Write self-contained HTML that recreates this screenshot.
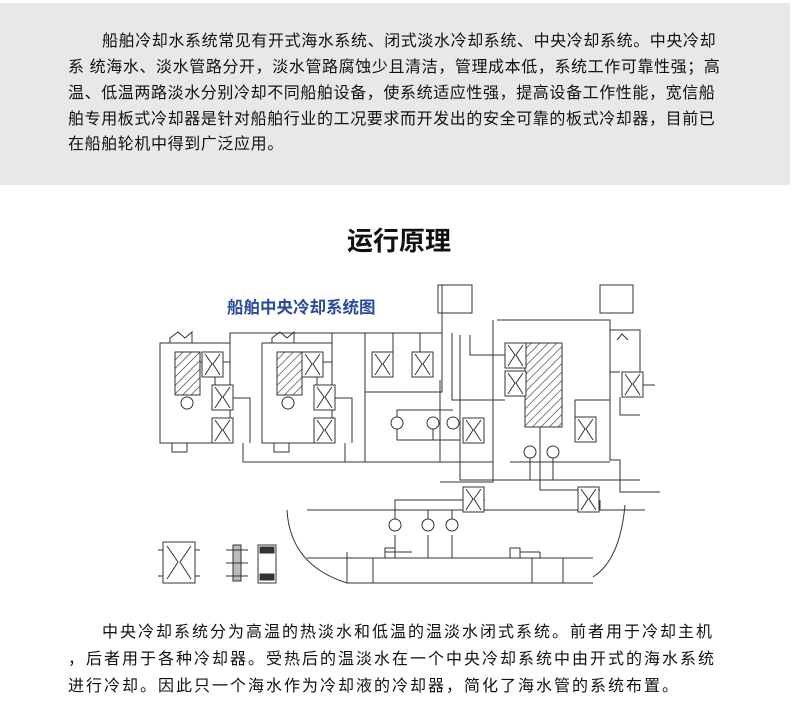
<!DOCTYPE html>
<html><head><meta charset="utf-8"><style>
body{margin:0;width:798px;height:726px;background:#fff;position:relative;overflow:hidden;font-family:"Liberation Sans","Noto Sans CJK SC",sans-serif;color:#111}
.g{position:absolute;left:0;top:3px;width:790px;height:182px;background:#e8e8e8}
.l{position:absolute;font-size:16px;line-height:22px;white-space:nowrap;letter-spacing:0.6px}
.b{letter-spacing:2px;font-size:16px}
.t{position:absolute;left:0;width:798px;text-align:center;top:224px;font-size:26px;font-weight:bold;line-height:34px}
svg{position:absolute;left:0;top:0}
</style></head><body>
<div class="g"></div>
<div class="l" style="left:102px;top:31px">船舶冷却水系统常见有开式海水系统、闭式淡水冷却系统、中央冷却系统。中央冷却</div>
<div class="l" style="left:68px;top:57px">系 统海水、淡水管路分开，淡水管路腐蚀少且清洁，管理成本低，系统工作可靠性强；高</div>
<div class="l" style="left:68px;top:83px">温、低温两路淡水分别冷却不同船舶设备，使系统适应性强，提高设备工作性能，宽信船</div>
<div class="l" style="left:68px;top:109px">舶专用板式冷却器是针对船舶行业的工况要求而开发出的安全可靠的板式冷却器，目前已</div>
<div class="l" style="left:68px;top:134px">在船舶轮机中得到广泛应用。</div>
<div class="t">运行原理</div>
<svg width="798" height="726" viewBox="0 0 798 726">
<defs><pattern id="h" width="6" height="6" patternUnits="userSpaceOnUse" patternTransform="rotate(45)"><line x1="0" y1="0" x2="0" y2="6" stroke="#333" stroke-width="1.3"/></pattern>
<g id="x"><rect x="0" y="0" width="21" height="25" fill="#fff" stroke="#333"/><path d="M3 2 L10 12 L3 23 M18 2 L11 12 L18 23" fill="none" stroke="#333"/></g></defs>
<text x="227" y="313" fill="#2a4a9a" font-size="16.5" font-weight="bold" font-family="Liberation Sans,Noto Sans CJK SC,sans-serif">船舶中央冷却系统图</text>
<g fill="none" stroke="#333" stroke-width="1">
<rect x="438" y="285" width="34" height="28"/><rect x="600" y="285" width="33" height="28"/>
<rect x="160" y="343" width="70" height="100"/><rect x="262" y="343" width="70" height="100"/>
<path d="M230 343 V333 H442 V285 M332 343 V333 M365 333 V462 M393 333 V352 M420 333 V352 M365 392 H442 V333"/>
<path d="M243 443 V462 H493 M345 443 V462 M440 380 V462"/>
<path d="M200 362 H230 M302 362 H332 M215 375 V385 M317 375 V385 M233 398 H250 V443 M335 398 H352 V443"/>
<path d="M172 443 V452 H187 V443 M274 443 V452 H289 V443"/>
<path d="M397 410 V440 H460 V410 M397 423 V410 H453 M433 423 V440"/>
<path d="M452 333 V400 H505 M460 335 V480 H493 V400 M470 335 V355 H505"/>
<path d="M497 320 H610 V460 H620 V492 H660 M493 320 V482 H440 M510 462 H610 M493 480 H640"/>
<path d="M530 452 V480 H553 V452 M540 427 V490 H600 M575 417 V400 H610"/>
<path d="M610 330 H640 V372 M643 385 H655 M610 372 H620 M620 397 V415 H640"/>
<path d="M307 510 H645 M395 525 V500 H485 M428 525 V510 M452 525 V510 M395 535 V552 H412 M428 535 V558 M452 535 V558"/>
<path d="M600 500 V510"/>
<path d="M307 558 H593 M347 558 V552 M385 552 H395 M520 552 H540 M540 558 V552"/>
<path d="M287 510 Q290 565 347 583 H593 M625 505 Q620 560 593 577"/>
<rect x="347" y="558" width="26" height="25"/><rect x="532" y="558" width="31" height="25"/>
<rect x="385" y="548" width="10" height="10"/><rect x="510" y="548" width="10" height="10"/>
<path d="M170 343 V338 L178 332 L185 338 L192 332 V343 M272 343 V338 L280 332 L287 338 L294 332 V343 M617 340 L622 334 L628 340"/>
</g>
<rect x="175" y="352" width="25" height="43" fill="url(#h)" stroke="#333"/>
<rect x="277" y="352" width="25" height="43" fill="url(#h)" stroke="#333"/>
<rect x="525" y="343" width="37" height="84" fill="url(#h)" stroke="#333"/>
<use href="#x" x="202" y="352"/><use href="#x" x="212" y="385"/><use href="#x" x="212" y="418"/>
<use href="#x" x="302" y="352"/><use href="#x" x="314" y="385"/><use href="#x" x="314" y="418"/>
<use href="#x" x="372" y="352"/><use href="#x" x="412" y="352"/>
<use href="#x" x="505" y="343"/><use href="#x" x="505" y="371"/>
<use href="#x" x="463" y="418"/><use href="#x" x="575" y="417"/><use href="#x" x="622" y="372"/>
<use href="#x" x="463" y="487"/><use href="#x" x="578" y="487"/>
<g fill="#fff" stroke="#333"><circle cx="187" cy="403" r="6"/><circle cx="288" cy="403" r="6"/>
<circle cx="397" cy="423" r="6"/><circle cx="433" cy="423" r="6"/><circle cx="453" cy="423" r="6"/>
<circle cx="530" cy="452" r="6"/><circle cx="553" cy="452" r="6"/>
<circle cx="395" cy="525" r="6"/><circle cx="428" cy="525" r="6"/><circle cx="452" cy="525" r="6"/></g>
<g stroke="#333" fill="none"><rect x="163" y="542" width="32" height="41"/><path d="M167 546 L178 562 L167 579 M191 546 L180 562 L191 579 M158 550 H163 M158 576 H163 M195 550 H200 M195 576 H200"/>
<rect x="233" y="545" width="8" height="36" fill="#bbb"/><path d="M226 550 H248 M226 563 H248 M226 576 H248"/>
<rect x="258" y="545" width="18" height="38"/><rect x="260" y="547" width="14" height="6" fill="#333"/><rect x="260" y="574" width="14" height="6" fill="#333"/></g>
</svg>
<div class="l b" style="left:102px;top:622px">中央冷却系统分为高温的热淡水和低温的温淡水闭式系统。前者用于冷却主机</div>
<div class="l b" style="left:68px;top:649px">，后者用于各种冷却器。受热后的温淡水在一个中央冷却系统中由开式的海水系统</div>
<div class="l b" style="left:68px;top:676px">进行冷却。因此只一个海水作为冷却液的冷却器，简化了海水管的系统布置。</div>
</body></html>
